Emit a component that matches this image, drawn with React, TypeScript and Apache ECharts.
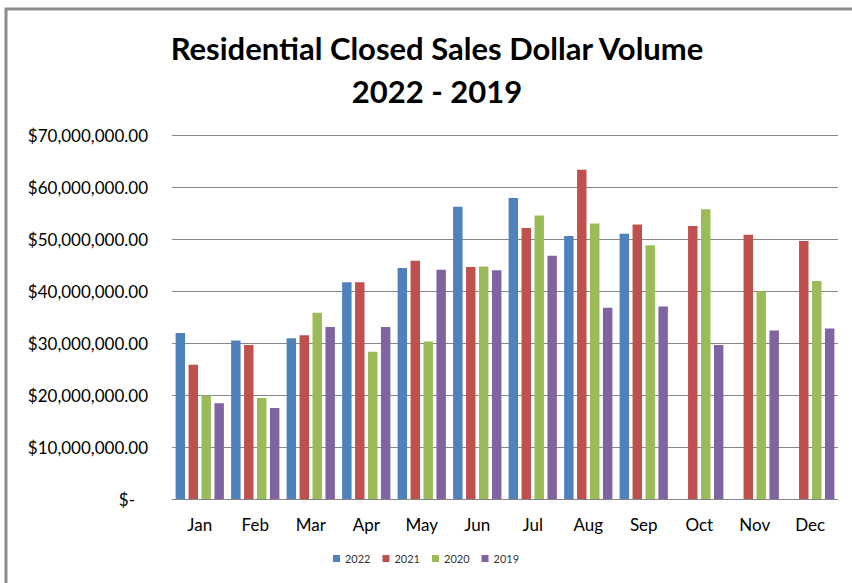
import React, { useEffect, useRef } from "react";
import * as echarts from "echarts";

const months = ["Jan", "Feb", "Mar", "Apr", "May", "Jun", "Jul", "Aug", "Sep", "Oct", "Nov", "Dec"];
const years = ["2022", "2021", "2020", "2019"];
const sales2022 = [31.9, 30.5, 30.9, 41.7, 44.4, 56.2, 57.9, 50.6, 51.0, null, null, null];
const sales2021 = [25.8, 29.6, 31.5, 41.7, 45.8, 44.6, 52.1, 63.3, 52.8, 52.5, 50.8, 49.6];
const sales2020 = [19.9, 19.4, 35.8, 28.3, 30.3, 44.7, 54.5, 53.0, 48.8, 55.7, 39.9, 41.9];
const sales2019 = [18.4, 17.5, 33.1, 33.1, 44.1, 44.0, 46.8, 36.8, 37.0, 29.6, 32.4, 32.8];
const colors = ["#4F81BD", "#C0504D", "#9BBB59", "#8064A2"];

const FONT = "Lato, 'Open Sans', sans-serif";

export default function App() {
  const ref = useRef<HTMLDivElement>(null);
  useEffect(() => {
    if (!ref.current) return;
    const chart = echarts.init(ref.current, null, { renderer: "svg" });
    const seriesData = [sales2022, sales2021, sales2020, sales2019];
    chart.setOption({
      animation: false,
      backgroundColor: "#ffffff",
      color: colors,
      title: {
        text: "Residential Closed Sales Dollar Volume\n2022 - 2019",
        left: 432,
        top: 21,
        textAlign: "center",
        textStyle: {
          fontFamily: FONT,
          fontWeight: "bold",
          fontSize: 31,
          lineHeight: 43,
          color: "#000",
        },
      },
      graphic: [
        {
          type: "rect",
          shape: { x: 6, y: 9, width: 900, height: 700 },
          style: { fill: "none", stroke: "#8c8c8c", lineWidth: 3 },
          silent: true,
        },
      ],
      legend: {
        data: years,
        bottom: 14,
        left: "center",
        itemWidth: 7,
        itemHeight: 7,
        itemGap: 12,
        icon: "rect",
        textStyle: { fontFamily: FONT, fontSize: 11, color: "#333" },
      },
      grid: { left: 172, right: 14, top: 135, bottom: 84 },
      xAxis: {
        type: "category",
        data: months,
        axisLine: { lineStyle: { color: "#868686" } },
        axisTick: { show: false },
        axisLabel: { fontFamily: FONT, fontSize: 17, color: "#000", margin: 17 },
      },
      yAxis: {
        type: "value",
        min: 0,
        max: 70,
        interval: 10,
        axisLine: { show: false },
        axisTick: { show: false },
        splitLine: { lineStyle: { color: "#868686", width: 1 } },
        axisLabel: {
          fontFamily: FONT,
          fontSize: 17,
          color: "#000",
          margin: 24,
          formatter: (v: number) =>
            v === 0
              ? "$-\u00a0\u00a0\u00a0"
              : "$" + (v * 1000000).toLocaleString("en-US", { minimumFractionDigits: 2, maximumFractionDigits: 2 }),
        },
      },
      series: years.map((y, i) => ({
        name: y,
        type: "bar",
        data: seriesData[i],
        barGap: "37%",
        barCategoryGap: "13%",
        itemStyle: { color: colors[i] },
      })),
    });
    return () => chart.dispose();
  }, []);
  return <div ref={ref} style={{ position: "absolute", left: 0, top: 0, width: 852, height: 583 }} />;
}
